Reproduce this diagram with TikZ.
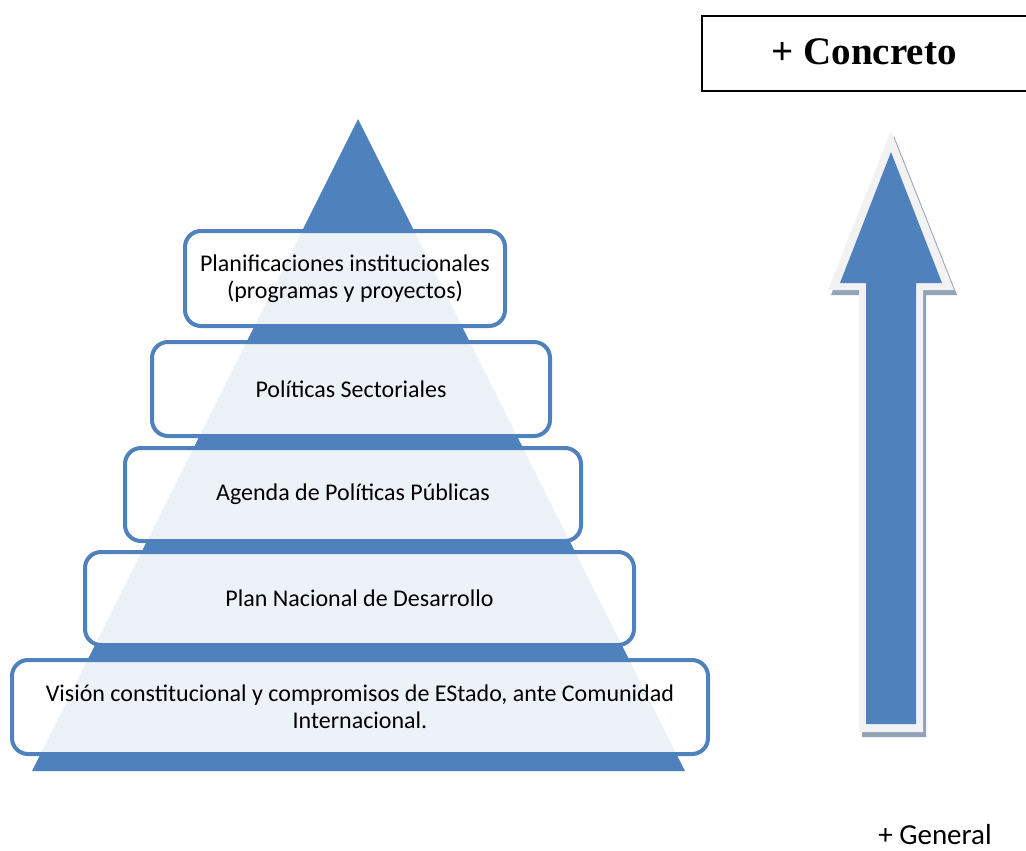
\documentclass[tikz,border=0pt]{standalone}
\usepackage{fontspec}
\setmainfont{Carlito}
\newfontfamily\titlefont{Liberation Serif}
\definecolor{pblue}{HTML}{4F81BD}
\definecolor{plight}{HTML}{F2F2F2}
\definecolor{pshadow}{HTML}{93A3B5}
\tikzset{
  level/.style={draw=pblue, line width=4pt, rounded corners=16pt, fill=white, fill opacity=0.9, text opacity=1,
    align=center, font=\fontsize{24}{27}\selectfont, inner sep=0pt},
}
\begin{document}
\begin{tikzpicture}[x=1pt,y=-1pt]
\useasboundingbox (0,0) rectangle (1026,851);
% pyramid
\fill[pblue] (358,119) -- (685,771) -- (32,771) -- cycle;
\node[level, minimum width=320pt, minimum height=95pt] (b1) at (345,278.5) {Planificaciones institucionales\\(programas y proyectos)};
\node[level, minimum width=398pt, minimum height=94pt] (b2) at (351,389) {Políticas Sectoriales};
\node[level, minimum width=456pt, minimum height=93pt] (b3) at (353,494.5) {Agenda de Políticas Públicas};
\node[level, minimum width=549pt, minimum height=93pt] (b4) at (359.5,598.5) {Plan Nacional de Desarrollo};
\node[level, minimum width=696pt, minimum height=94pt] (b5) at (360,707) {Visión constitucional y compromisos de EStado, ante Comunidad\\Internacional.};
% concreto box
\node[draw=black, line width=2pt, minimum width=332pt, minimum height=75pt, inner sep=0pt] (cbox) at (868,53.5) {};
\node[font=\titlefont\bfseries\fontsize{39}{44}\selectfont, inner sep=0pt] (ctext) at (864,52) {+ Concreto};
% arrow
\fill[pshadow] (894,136) -- (957,295) -- (926,295) -- (926,737) -- (862,737) -- (862,295) -- (831,295) -- cycle;
\fill[plight] (891,131) -- (954,290) -- (923,290) -- (923,732) -- (859,732) -- (859,290) -- (828,290) -- cycle;
\fill[pblue] (891,152) -- (942,283) -- (916,283) -- (916,724) -- (866,724) -- (866,283) -- (840,283) -- cycle;
\node[font=\fontsize{29}{34}\selectfont, inner sep=0pt] (gen) at (935,835) {+ General};
\end{tikzpicture}
\end{document}
